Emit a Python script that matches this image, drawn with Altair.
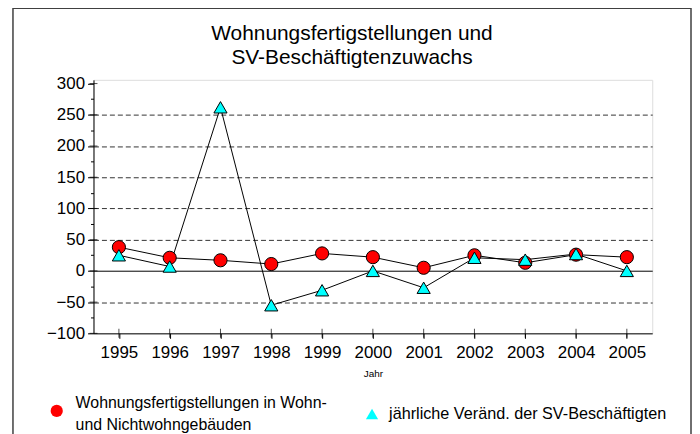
import altair as alt
import pandas as pd

years = [1995, 1996, 1997, 1998, 1999, 2000, 2001, 2002, 2003, 2004, 2005]
wohnungen = [38, 21, 17, 11, 28, 22, 5, 25, 13, 26, 22]
sv_zuwachs = [25, 7, 262, -55, -31, 0, -27, 21, 18, 27, 0]
series_names = ["Wohnungsfertigstellungen in Wohn- und Nichtwohngebäuden",
                "jährliche Veränd. der SV-Beschäftigten"]
series_label_lines = ["Wohnungsfertigstellungen in Wohn-", "und Nichtwohngebäuden"]
colors = ["#ff0000", "#00ffff"]
shapes = ["circle", "triangle-up"]
y_ticks = list(range(-100, 301, 25))
y_major = list(range(-100, 301, 50))
title_lines = ["Wohnungsfertigstellungen und", "SV-Beschäftigtenzuwachs"]

rows = []
for s, vals in zip(series_names, [wohnungen, sv_zuwachs]):
    for y, v in zip(years, vals):
        rows.append({"Jahr": str(y), "Serie": s, "Wert": v})
df = pd.DataFrame(rows)
df_a = df[df["Serie"] == series_names[0]]
df_b = df[df["Serie"] == series_names[1]]

SANS = "Liberation Sans, Arial, sans-serif"
year_order = [str(y) for y in years]

x_scale = alt.Scale(type="point", padding=0.5)
y_scale = alt.Scale(domain=[-100, 306], nice=False, zero=False)

x_axis = alt.Axis(title="Jahr", titleFont=SANS, titleFontSize=10,
                  titleFontWeight="normal", titleColor="black",
                  titlePadding=8,
                  labelFont=SANS, labelFontSize=17, labelColor="black",
                  labelAngle=0, labelPadding=6,
                  tickSize=5, tickColor="black",
                  domainColor="black", grid=False)

y_axis = alt.Axis(title=None, values=y_ticks, labelOverlap=False,
                  labelExpr="datum.value % 50 === 0 ? datum.label : ''",
                  labelFont=SANS, labelFontSize=17, labelColor="black",
                  labelPadding=3,
                  tickSize={"condition": {"test": "datum.value % 50 === 0", "value": 6}, "value": 3},
                  tickColor="black", domainColor="black",
                  grid=True,
                  gridColor={"condition": {"test": "datum.value === 0", "value": "black"}, "value": "#333333"},
                  gridDash={"condition": {"test": "datum.value === 0", "value": []}, "value": [5, 3]},
                  gridOpacity={"condition": {"test": "datum.value % 50 !== 0 || datum.value === 300 || datum.value === -100", "value": 0}, "value": 1})

x_enc = alt.X("Jahr:O", scale=x_scale, sort=year_order, axis=x_axis)
y_enc = alt.Y("Wert:Q", scale=y_scale, axis=y_axis)

label_expr = "['%s', '%s']" % (series_label_lines[0], series_label_lines[1])

lines = alt.Chart(df).mark_line(color="black", strokeWidth=1).encode(
    x=x_enc, y=y_enc, detail="Serie:N")

points_a = alt.Chart(df_a).mark_point(filled=True, size=175, stroke="black",
                                      strokeWidth=1, opacity=1, shape=shapes[0]).encode(
    x=x_enc, y=y_enc,
    color=alt.Color("Serie:N", scale=alt.Scale(domain=[series_names[0]], range=[colors[0]]),
                    legend=alt.Legend(orient="none", legendX=-45, legendY=325,
                                      title=None,
                                      labelFont=SANS, labelFontSize=16,
                                      labelColor="black", labelLimit=600,
                                      labelExpr=label_expr, labelBaseline="bottom",
                                      symbolSize=150, symbolStrokeWidth=0,
                                      symbolType="circle", labelOffset=11)),
)

points_b = alt.Chart(df_b).mark_point(filled=True, size=175, stroke="black",
                                      strokeWidth=1, opacity=1, color=colors[1]).encode(
    x=x_enc, y=y_enc,
    shape=alt.Shape("Serie:N", scale=alt.Scale(domain=[series_names[1]], range=[shapes[1]]),
                    legend=alt.Legend(orient="none", legendX=272, legendY=328,
                                      title=None,
                                      labelFont=SANS, labelFontSize=16.3,
                                      labelColor="black", labelLimit=600,
                                      labelBaseline="middle",
                                      symbolSize=150, symbolStrokeWidth=0,
                                      symbolFillColor=colors[1],
                                      labelOffset=9)),
)

xtick_df = pd.DataFrame({"Jahr": year_order, "Wert": [-100] * len(years)})
xticks_in = alt.Chart(xtick_df).mark_tick(
    orient="vertical", size=9, thickness=1, color="black").encode(
    x=x_enc, y=y_enc)

yticks_in = alt.Chart(pd.DataFrame({"Wert": y_major})).mark_tick(
    orient="horizontal", size=8, thickness=1, color="black").encode(
    x=alt.value(0), y=y_enc)

frame = alt.Chart(alt.Data(values=[{}])).mark_rect(
    filled=False, stroke="#404040", strokeWidth=1.5).encode(
    x=alt.value(-81), x2=alt.value(601), y=alt.value(-72), y2=alt.value(400))

chart = alt.layer(frame, lines, points_a, points_b, xticks_in, yticks_in).properties(
    width=562, height=255,
    title=alt.TitleParams(title_lines, font=SANS, fontSize=21, fontWeight="normal",
                          color="black", anchor="middle", dx=-21, offset=0, dy=82,
                          baseline="bottom", lineHeight=24),
    autosize=alt.AutoSizeParams(type="none"),
    padding={"left": 86, "top": 71, "right": 40, "bottom": 100},
).configure_view(stroke="black", strokeWidth=1).configure(
    background="white", style={"guide-label": {"lineHeight": 22}})

chart.save("out.html", embed_options={"renderer": "svg", "actions": False})
